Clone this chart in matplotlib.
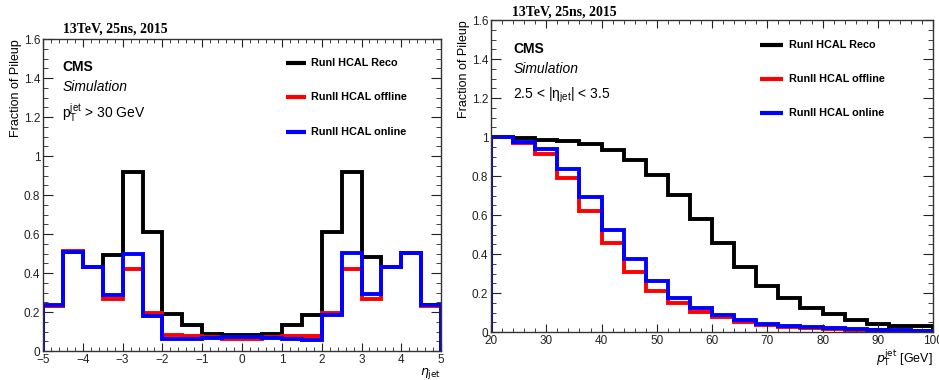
import numpy as np
import matplotlib.pyplot as plt
from matplotlib.ticker import MultipleLocator

plt.rcParams['font.family'] = ['Liberation Sans', 'DejaVu Sans']

# left panel: fraction of pileup vs eta, 0.5 wide bins
eta_edges = np.arange(-5, 5.01, 0.5)
eta_reco = [0.23, 0.51, 0.43, 0.49, 0.92, 0.61, 0.19, 0.135, 0.085, 0.08,
            0.08, 0.085, 0.135, 0.185, 0.61, 0.92, 0.48, 0.43, 0.505, 0.235]
eta_offline = [0.23, 0.515, 0.43, 0.265, 0.42, 0.195, 0.08, 0.075, 0.07, 0.06,
               0.06, 0.07, 0.075, 0.075, 0.195, 0.42, 0.265, 0.43, 0.505, 0.23]
eta_online = [0.235, 0.51, 0.43, 0.285, 0.5, 0.18, 0.06, 0.06, 0.065, 0.07,
              0.07, 0.065, 0.06, 0.055, 0.185, 0.505, 0.29, 0.43, 0.505, 0.235]

# right panel: fraction of pileup vs pT, 4 GeV bins
pt_edges = np.arange(20, 100.1, 4)
pt_reco = [1.0, 0.995, 0.985, 0.98, 0.963, 0.932, 0.881, 0.807, 0.703, 0.579,
           0.454, 0.334, 0.237, 0.173, 0.125, 0.091, 0.063, 0.043, 0.03, 0.03]
pt_offline = [1.0, 0.968, 0.915, 0.79, 0.62, 0.456, 0.308, 0.211, 0.151, 0.105,
              0.075, 0.051, 0.036, 0.025, 0.02, 0.015, 0.01, 0.008, 0.005, 0.003]
pt_online = [1.0, 0.975, 0.937, 0.836, 0.69, 0.523, 0.372, 0.262, 0.175, 0.125,
             0.086, 0.063, 0.043, 0.031, 0.027, 0.021, 0.015, 0.01, 0.008, 0.005]

labels = ['RunI HCAL Reco', 'RunII HCAL offline', 'RunII HCAL online']
colors = ['black', '#ff0000', '#0000ff']

fig = plt.figure(figsize=(9.39, 3.80), dpi=100)
axL = fig.add_axes([0.0458, 0.0763, 0.424, 0.821])
axR = fig.add_axes([0.523, 0.1263, 0.4707, 0.821])


def style(ax, xmaj, xmin):
    ax.set_ylim(0, 1.6)
    ax.xaxis.set_major_locator(MultipleLocator(xmaj))
    ax.xaxis.set_minor_locator(MultipleLocator(xmin))
    ax.yaxis.set_major_locator(MultipleLocator(0.2))
    ax.yaxis.set_minor_locator(MultipleLocator(0.05))
    ax.tick_params(which='both', direction='in', top=True, right=True,
                   labelsize=8.5, colors='#222222', pad=2)
    ax.tick_params(axis='x', which='major', length=6)
    ax.tick_params(axis='x', which='minor', length=3)
    ax.tick_params(axis='y', which='major', length=7.5)
    ax.tick_params(axis='y', which='minor', length=3.5)
    ax.yaxis.set_major_formatter(lambda v, p: '%g' % round(v, 2))
    for s in ax.spines.values():
        s.set_linewidth(1.0)
        s.set_color('#333333')
    ax.set_ylabel('Fraction of Pileup', loc='top', fontsize=9, labelpad=1)


def legend_rows(ax, x0, x1, xt, ys):
    for lab, c, y in zip(labels, colors, ys):
        ax.plot([x0, x1], [y, y], color=c, lw=3, transform=ax.transAxes,
                solid_capstyle='butt', clip_on=False)
        ax.text(xt, y, lab, transform=ax.transAxes, fontsize=7.8,
                fontweight='bold', va='center', ha='left')


for vals, c in zip([eta_reco, eta_offline, eta_online], colors):
    axL.stairs(vals, eta_edges, color=c, lw=2.8)
axL.set_xlim(-5, 5)
style(axL, 1, 0.2)
axL.set_xlabel(r'$\eta_{\mathrm{jet}}$', loc='right', fontsize=9, labelpad=0)

for vals, c in zip([pt_reco, pt_offline, pt_online], colors):
    axR.stairs(vals, pt_edges, color=c, lw=2.8)
axR.set_xlim(20, 100)
style(axR, 10, 2)
axR.set_xlabel(r'$p_{\mathrm{T}}^{\mathrm{jet}}$ [GeV]', loc='right', fontsize=9, labelpad=0)

# left annotations (axes coords from pixel positions)
axL.text(0.048, 0.91, 'CMS', transform=axL.transAxes, fontsize=10, fontweight='bold', va='center')
axL.text(0.048, 0.845, 'Simulation', transform=axL.transAxes, fontsize=10, style='italic', va='center')
axL.text(0.048, 0.76, r'$\mathregular{p_T^{jet}}$ > 30 GeV', transform=axL.transAxes, fontsize=10, va='center')
legend_rows(axL, 0.61, 0.66, 0.674, [0.923, 0.814, 0.702])
fig.text(63 / 939, 1 - 29 / 380, '13TeV, 25ns, 2015', fontsize=10, fontweight='bold',
         family='Liberation Serif', va='center')

# right annotations
axR.text(0.05, 0.908, 'CMS', transform=axR.transAxes, fontsize=10, fontweight='bold', va='center')
axR.text(0.05, 0.843, 'Simulation', transform=axR.transAxes, fontsize=10, style='italic', va='center')
axR.text(0.05, 0.757, r'2.5 < |$\mathregular{\eta_{jet}}$| < 3.5', transform=axR.transAxes, fontsize=10, va='center')
legend_rows(axR, 0.609, 0.661, 0.674, [0.920, 0.811, 0.702])
fig.text(512 / 939, 1 - 12 / 380, '13TeV, 25ns, 2015', fontsize=10, fontweight='bold',
         family='Liberation Serif', va='center')

fig.savefig('out.png', dpi=100)
